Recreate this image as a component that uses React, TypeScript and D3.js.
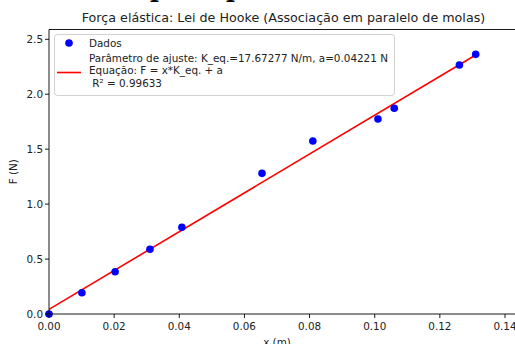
import React from "react";
import * as d3 from "d3";

const xData = [0, 0.0101, 0.0203, 0.031, 0.0408, 0.0654, 0.081, 0.101, 0.106, 0.126, 0.131];
const yData = [0, 0.194, 0.385, 0.589, 0.789, 1.28, 1.574, 1.774, 1.872, 2.266, 2.363];
const kEq = 17.67277;
const aFit = 0.04221;
const xTicks = [0, 0.02, 0.04, 0.06, 0.08, 0.1, 0.12, 0.14];
const yTicks = [0, 0.5, 1.0, 1.5, 2.0, 2.5];
const legendLines = [
  "Parâmetro de ajuste: K_eq.=17.67277 N/m, a=0.04221 N",
  "Equação: F = x*K_eq. + a",
  " R² = 0.99633",
];

export default function App() {
  const W = 515, H = 344;
  const left = 49, top = 29.5, bottom = 314;
  const x = d3.scaleLinear().domain([0, 0.14]).range([left, 505]);
  const y = d3.scaleLinear().domain([0, 2.5]).range([bottom, 39.3]);
  const xMin = 0, xMax = d3.max(xData) as number;
  const line = d3.line<number>().x((d) => x(d)).y((d) => y(kEq * d + aFit));
  const font = "DejaVu Sans, sans-serif";
  const tc = "#222";
  return (
    <svg width={W} height={H} style={{ position: "absolute", left: 0, top: 0, background: "#fff" }}>
      <rect x={0} y={0} width={W} height={H} fill="#fff" />
      <text x={150} y={-3} fontFamily="DejaVu Serif, serif" fontSize={24} fontWeight="bold" fill="#000">p</text>
      <text x={226} y={-3} fontFamily="DejaVu Serif, serif" fontSize={24} fontWeight="bold" fill="#000">p</text>
      <text x={283.5} y={22} textAnchor="middle" fontFamily={font} fontSize={12.7} fill={tc}>
        Força elástica: Lei de Hooke (Associação em paralelo de molas)
      </text>
      <defs>
        <clipPath id="plotclip">
          <rect x={left} y={top} width={W - left + 10} height={bottom - top} />
        </clipPath>
      </defs>
      <g clipPath="url(#plotclip)">
        <path d={line([xMin, xMax]) || ""} stroke="#ff0000" strokeWidth={1.6} fill="none" />
      </g>
      {xData.map((d, i) => (
        <circle key={i} cx={x(d)} cy={y(yData[i])} r={3.8} fill="#0000ff" />
      ))}
      <line x1={left} x2={W + 5} y1={top} y2={top} stroke="#000" strokeWidth={0.9} />
      <line x1={left} x2={W + 5} y1={bottom} y2={bottom} stroke="#000" strokeWidth={0.9} />
      <line x1={left} x2={left} y1={top} y2={bottom} stroke="#000" strokeWidth={0.9} />
      {xTicks.map((t) => (
        <g key={t}>
          <line x1={x(t)} x2={x(t)} y1={bottom} y2={bottom + 4} stroke="#000" strokeWidth={0.9} />
          <text x={x(t)} y={bottom + 15.5} textAnchor="middle" fontFamily={font} fontSize={10.4} fill={tc}>
            {t.toFixed(2)}
          </text>
        </g>
      ))}
      {yTicks.map((t) => (
        <g key={t}>
          <line x1={left - 4} x2={left} y1={y(t)} y2={y(t)} stroke="#000" strokeWidth={0.9} />
          <text x={left - 6} y={y(t) + 3.8} textAnchor="end" fontFamily={font} fontSize={10.4} fill={tc}>
            {t.toFixed(1)}
          </text>
        </g>
      ))}
      <text x={x(0.07)} y={346} textAnchor="middle" fontFamily={font} fontSize={10.4} fill={tc}>x (m)</text>
      <text transform={`translate(17,${(top + bottom) / 2}) rotate(-90)`} textAnchor="middle" fontFamily={font} fontSize={10.4} fill={tc}>F (N)</text>
      <g>
        <rect x={54.5} y={34.5} width={340} height={61} rx={3} fill="#fff" fillOpacity={0.8} stroke="#cccccc" strokeWidth={0.9} />
        <circle cx={69} cy={43} r={3.8} fill="#0000ff" />
        <text x={89} y={46.5} fontFamily={font} fontSize={10.4} fill={tc}>Dados</text>
        <line x1={57} x2={81} y1={72.5} y2={72.5} stroke="#ff0000" strokeWidth={1.6} />
        {legendLines.map((s, i) => (
          <text key={i} x={89} y={61.5 + i * 12.5} fontFamily={font} fontSize={10.4} fill={tc} style={{ whiteSpace: "pre" }} xmlSpace="preserve">
            {s}
          </text>
        ))}
      </g>
    </svg>
  );
}
